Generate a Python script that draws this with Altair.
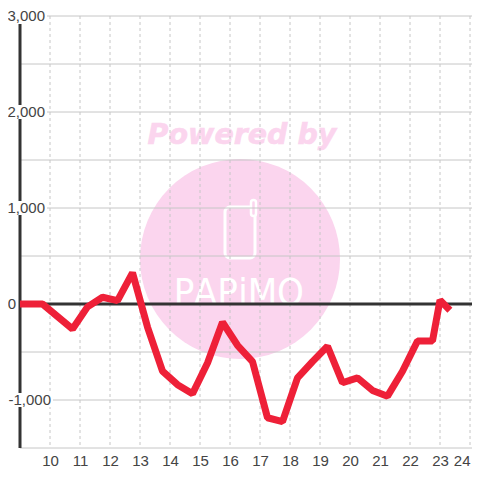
import altair as alt
import pandas as pd

hours = [9, 9.75, 10.75, 11.25, 11.75, 12.25, 12.75, 13.25, 13.75, 14.25, 14.75, 15.25, 15.75, 16.25,
         16.75, 17.25, 17.75, 18.25, 18.75, 19.25, 19.75, 20.25, 20.75, 21.25, 21.75, 22.25, 22.75, 23, 23.33]
profit = [0, 0, -260, -30, 70, 35, 325, -240, -700, -840, -935, -615, -190, -430,
          -600, -1185, -1225, -770, -600, -440, -820, -770, -900, -960, -700, -385, -385, 40, -65]
x_ticks = list(range(10, 25))
y_grid = [3000, 2500, 2000, 1500, 1000, 500, -500, -1000, -1500]
y_labels = ["3,000", "2,000", "1,000", "0", "-1,000"]
y_label_values = [3000, 2000, 1000, 0, -1000]
logo_letters = ["P", "A", "P", "i", "M", "O"]

GRAY = "#c6c6c6"
DARK = "#333333"
TEXT = "#444444"
PINK = "#fbd5ee"
RED = "#ee2038"
FONT = "Liberation Sans"
PX = 30.0  # pixels per hour


def hx(px):
    return 9 + px / PX


x_scale = alt.Scale(domain=[9, 9 + 452 / PX], nice=False, zero=False)
y_scale = alt.Scale(domain=[-1500, 3000], nice=False, zero=False)
x_axis = alt.Axis(values=x_ticks, title=None, domain=False, ticks=False, grid=False, labelFontSize=15,
                  labelFont=FONT, labelColor=TEXT, labelPadding=5, format="d", labelFlush=5,
                  labelOverlap=False)
X = lambda f: alt.X(f, type="quantitative", scale=x_scale, axis=x_axis)
Y = lambda f: alt.Y(f, type="quantitative", scale=y_scale, axis=None)
one = pd.DataFrame({"a": [0]})

circle = alt.Chart(one).mark_point(filled=True, color=PINK, opacity=1, size=40000, shape="circle").encode(
    x=alt.value(220), y=alt.value(243))
powered = alt.Chart(one).mark_text(text="Powered by", font="DejaVu Sans", fontWeight="bold", fontStyle="italic",
                                   fontSize=28.5, color=PINK, stroke=PINK, strokeWidth=0.6, align="center",
                                   baseline="alphabetic").encode(x=alt.value(222), y=alt.value(128))
phone = alt.Chart(one).mark_rect(fill=PINK, stroke="white", strokeWidth=3, cornerRadius=5).encode(
    x=alt.value(205), x2=alt.value(235), y=alt.value(191), y2=alt.value(242))
antenna = alt.Chart(one).mark_rect(fill=PINK, stroke="white", strokeWidth=2.5, cornerRadius=3).encode(
    x=alt.value(231), x2=alt.value(236), y=alt.value(184), y2=alt.value(200))
logo_df = pd.DataFrame({"c": logo_letters, "px": [hx(p) for p in [164, 185.5, 207.5, 223, 242.5, 270.5]]})
logo = alt.Chart(logo_df).mark_text(font="DejaVu Sans Condensed", fontSize=38, color="white",
                                    align="center", baseline="alphabetic").encode(
    x=X("px"), y=alt.value(289), text="c:N")

grid_h = alt.Chart(pd.DataFrame({"v": y_grid})).mark_rule(color=GRAY, strokeWidth=1).encode(y=Y("v"))
grid_v = alt.Chart(pd.DataFrame({"v": x_ticks})).mark_rule(color=GRAY, strokeWidth=1, strokeDash=[3, 3]).encode(
    x=X("v"))

lab_df = pd.DataFrame({"v": y_label_values, "t": y_labels,
                       "px": [hx(p) for p in [25, 25, 25, -4, 31]],
                       "x0": hx(-12),
                       "wx": [hx(p) for p in [27, 27, 27, -4, 33]]})
white = alt.Chart(lab_df[lab_df.v != 0]).mark_rect(fill="white", height=14).encode(
    x=X("x0"), x2="wx:Q", y=Y("v"))
axis_line = alt.Chart(pd.DataFrame({"x": [9], "a": [2917], "b": [-1500]})).mark_rule(color=DARK, strokeWidth=3).encode(
    x=X("x"), y=Y("a"), y2="b:Q")
axis_mask = alt.Chart(lab_df[lab_df.v.isin([2000, 1000, -1000])]).mark_rect(fill="white", height=14).encode(
    x=alt.value(-4), x2=alt.value(4), y=Y("v"))
zero_line = alt.Chart(pd.DataFrame({"v": [0]})).mark_rule(color=DARK, strokeWidth=3).encode(y=Y("v"))
series = alt.Chart(pd.DataFrame({"h": hours, "p": profit})).mark_line(
    color=RED, strokeWidth=7, strokeJoin="bevel", strokeCap="butt", interpolate="linear").encode(
    x=X("h"), y=Y("p"), order="h:Q")
labels = alt.Chart(lab_df).mark_text(font=FONT, fontSize=15, color=TEXT, align="right", baseline="middle").encode(
    x=X("px"), y=Y("v"), text="t:N")

chart = alt.layer(circle, powered, phone, antenna, logo, grid_v, grid_h, white, axis_line, axis_mask,
                  zero_line, series, labels).resolve_scale(x="shared", y="shared").properties(
    width=452, height=432,
    autosize=alt.AutoSizeParams(type="none"),
    padding={"left": 12, "top": 8, "right": 0, "bottom": 24},
).configure_view(stroke=None)
chart.save("out.html", embed_options={"renderer": "svg", "actions": False})
